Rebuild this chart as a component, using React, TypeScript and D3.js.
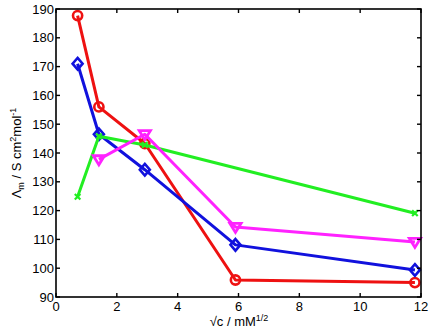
import React from "react";
import * as d3 from "d3";

const xRed = [0.71, 1.41, 2.92, 5.9, 11.8];
const yRed = [187.7, 156.0, 143.3, 95.9, 95.0];
const xBlue = [0.71, 1.41, 2.92, 5.9, 11.8];
const yBlue = [171.0, 146.5, 134.2, 108.1, 99.4];
const xGreen = [0.71, 1.41, 2.92, 11.8];
const yGreen = [124.8, 145.8, 142.8, 119.1];
const xMagenta = [1.41, 2.92, 5.9, 11.8];
const yMagenta = [137.8, 146.5, 114.3, 109.1];
const xTicks = [0, 2, 4, 6, 8, 10, 12];
const yTicks = [90, 100, 110, 120, 130, 140, 150, 160, 170, 180, 190];

const W = 431, H = 334;
const L = 56, R = 421, T = 9, B = 297;

export default function App() {
  const x = d3.scaleLinear().domain([0, 12]).range([L, R]);
  const y = d3.scaleLinear().domain([90, 190]).range([B, T]);
  const line = d3.line<[number, number]>().x(d => x(d[0])).y(d => y(d[1]));
  const font = "'Liberation Sans', Arial, sans-serif";

  const series = [
    { xs: xRed, ys: yRed, color: "#ee1111", marker: "circle" },
    { xs: xBlue, ys: yBlue, color: "#1111dd", marker: "diamond" },
    { xs: xGreen, ys: yGreen, color: "#22ee22", marker: "x" },
    { xs: xMagenta, ys: yMagenta, color: "#ff22ff", marker: "tri" },
  ];

  const marker = (m: string, cx: number, cy: number, c: string, k: number) => {
    if (m === "circle") return <circle key={k} cx={cx} cy={cy} r={4.6} fill="none" stroke={c} strokeWidth={2.6} />;
    if (m === "diamond") return <path key={k} d={`M${cx},${cy - 5.8}L${cx + 5},${cy}L${cx},${cy + 5.8}L${cx - 5},${cy}Z`} fill="none" stroke={c} strokeWidth={2.6} />;
    if (m === "tri") return <path key={k} d={`M${cx - 5.6},${cy - 3.6}L${cx + 5.6},${cy - 3.6}L${cx},${cy + 5.4}Z`} fill="none" stroke={c} strokeWidth={2.8} strokeLinejoin="miter" />;
    return <path key={k} d={`M${cx - 2.8},${cy - 2.8}L${cx + 2.8},${cy + 2.8}M${cx - 2.8},${cy + 2.8}L${cx + 2.8},${cy - 2.8}`} stroke={c} strokeWidth={2.2} />;
  };

  return (
    <svg width={W} height={H} style={{ position: "absolute", left: 0, top: 0, background: "#fff" }} fontFamily={font}>
      <rect x={0} y={0} width={W} height={H} fill="#fff" />
      {series.map((s, i) => (
        <g key={i}>
          <path d={line(s.xs.map((v, j) => [v, s.ys[j]]) as [number, number][]) || ""} fill="none" stroke={s.color} strokeWidth={3} strokeLinejoin="round" />
          {s.xs.map((v, j) => marker(s.marker, x(v), y(s.ys[j]), s.color, j))}
        </g>
      ))}
      <rect x={L} y={T} width={R - L} height={B - T} fill="none" stroke="#000" strokeWidth={1.6} />
      {xTicks.map(t => (
        <g key={"x" + t}>
          <line x1={x(t)} x2={x(t)} y1={B} y2={B - 4} stroke="#000" strokeWidth={1.4} />
          <line x1={x(t)} x2={x(t)} y1={T} y2={T + 4} stroke="#000" strokeWidth={1.4} />
          <text x={x(t)} y={B + 14} fontSize={13} textAnchor="middle">{t}</text>
        </g>
      ))}
      {yTicks.map(t => (
        <g key={"y" + t}>
          <line x1={L} x2={L + 4} y1={y(t)} y2={y(t)} stroke="#000" strokeWidth={1.4} />
          <line x1={R} x2={R - 4} y1={y(t)} y2={y(t)} stroke="#000" strokeWidth={1.4} />
          <text x={L - 2} y={y(t) + 4.6} fontSize={13} textAnchor="end">{t}</text>
        </g>
      ))}
      <text x={239} y={326} fontSize={13} textAnchor="middle">
        √c / mM<tspan dy={-5} fontSize={9}>1/2</tspan>
      </text>
      <text transform={`translate(20.5,153) rotate(-90)`} fontSize={13} textAnchor="middle">
        Λ<tspan dy={3} fontSize={9}>m</tspan>
        <tspan dy={-3}> / S cm</tspan>
        <tspan dy={-5} fontSize={9}>2</tspan>
        <tspan dy={5}>mol</tspan>
        <tspan dy={-5} fontSize={9}>-1</tspan>
      </text>
    </svg>
  );
}
